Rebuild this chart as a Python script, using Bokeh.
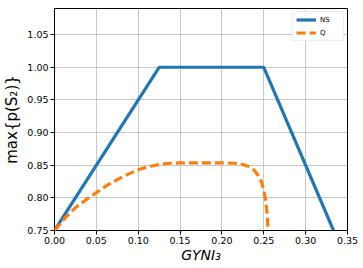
from bokeh.plotting import figure
from bokeh.models import Legend, LegendItem, FixedTicker
from bokeh.embed import file_html
from bokeh.resources import INLINE

# Data
ns_x = [0.0, 0.125, 0.25, 0.3333]
ns_y = [0.75, 1.0, 1.0, 0.75]

q_x = [0.0, 0.0125, 0.025, 0.0375, 0.05, 0.0625, 0.075, 0.0875, 0.10, 0.1125, 0.125,
       0.1375, 0.15, 0.175, 0.20, 0.215, 0.225, 0.232, 0.238, 0.243, 0.247, 0.250,
       0.252, 0.2535, 0.2545, 0.255]
q_y = [0.75, 0.769, 0.785, 0.797, 0.808, 0.819, 0.828, 0.836, 0.843, 0.848, 0.851,
       0.853, 0.8535, 0.8535, 0.8535, 0.853, 0.851, 0.848, 0.843, 0.835, 0.825, 0.812,
       0.798, 0.782, 0.765, 0.75]

x_ticks = [0.0, 0.05, 0.10, 0.15, 0.20, 0.25, 0.30, 0.35]
y_ticks = [0.75, 0.80, 0.85, 0.90, 0.95, 1.00, 1.05]

p = figure(width=363, height=268, x_range=(0, 0.35), y_range=(0.75, 1.09),
           output_backend="svg", toolbar_location=None,
           min_border_left=49, min_border_right=16, min_border_top=8, min_border_bottom=38)

p.outline_line_color = "black"
p.outline_line_width = 1
p.background_fill_color = "white"

for ax in (p.xaxis, p.yaxis):
    ax.axis_line_color = None
    ax.major_tick_out = 4
    ax.major_tick_in = 0
    ax.minor_tick_line_color = None
    ax.major_label_text_font = "DejaVu Sans"
    ax.major_label_text_font_size = "9.5px"
    ax.major_label_text_color = "black"
    ax.major_label_standoff = 2
    ax.axis_label_text_font = "DejaVu Sans"
    ax.axis_label_text_font_size = "14px"
    ax.axis_label_text_font_style = "normal"
    ax.axis_label_text_color = "black"

p.xaxis.ticker = FixedTicker(ticks=x_ticks)
p.yaxis.ticker = FixedTicker(ticks=y_ticks)
p.xaxis.major_label_overrides = {t: f"{t:.2f}" for t in x_ticks}
p.yaxis.major_label_overrides = {t: f"{t:.2f}" for t in y_ticks}
p.xaxis.axis_label = "GYNI₃"
p.xaxis.axis_label_text_font_style = "italic"
p.xaxis.axis_label_standoff = 0
p.yaxis.axis_label = "max{p(S₂)}"
p.yaxis.axis_label_text_font_size = "15px"
p.yaxis.axis_label_standoff = 3

p.xgrid.ticker = FixedTicker(ticks=x_ticks)
p.ygrid.ticker = FixedTicker(ticks=y_ticks)
p.grid.grid_line_color = "#b0b0b0"
p.grid.grid_line_alpha = 0.7
p.grid.grid_line_width = 1

r1 = p.line(ns_x, ns_y, line_color="#1f77b4", line_width=3.2)
r2 = p.line(q_x, q_y, line_color="#ff7f0e", line_width=3.2, line_dash="9 4")

legend = Legend(items=[LegendItem(label="NS", renderers=[r1]),
                       LegendItem(label="Q", renderers=[r2])],
                location="top_right")
legend.label_text_font = "DejaVu Sans"
legend.label_text_font_size = "7px"
legend.label_text_color = "black"
legend.glyph_width = 20
legend.glyph_height = 9
legend.label_height = 9
legend.spacing = 4
legend.padding = 3
legend.margin = 3
legend.border_line_color = "#dddddd"
legend.border_line_width = 1
legend.background_fill_alpha = 0.9
legend.label_standoff = 4
p.add_layout(legend)

open("out.html", "w").write(file_html(p, INLINE))
